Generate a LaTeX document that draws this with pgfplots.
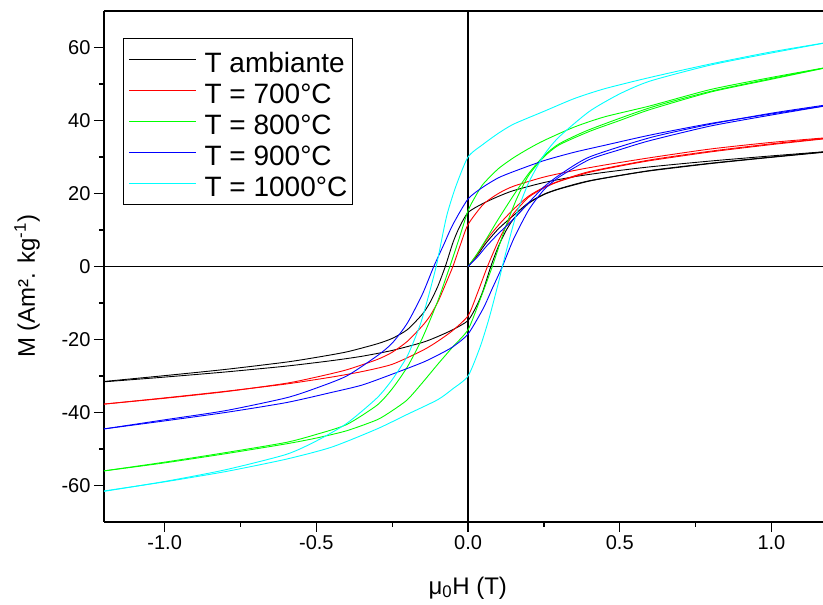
\documentclass[border=0pt]{standalone}
\usepackage{fontspec}
\setmainfont{Liberation Sans}
\usepackage{pgfplots}
\pgfplotsset{compat=1.18}
\definecolor{cR}{RGB}{255,0,0}
\definecolor{cG}{RGB}{0,255,0}
\definecolor{cB}{RGB}{0,0,255}
\definecolor{cC}{RGB}{0,255,255}
\begin{document}
\begin{tikzpicture}
\useasboundingbox (0,0) rectangle (823pt,605pt);
\begin{axis}[
  at={(104pt,83pt)}, anchor=south west,
  scale only axis, width=719pt, height=511pt,
  xmin=-1.2, xmax=1.17, ymin=-70, ymax=70,
  axis x line*=bottom, axis y line*=left,
  axis line style={line width=2pt},
  tick align=outside,
  xtick={-1,-0.5,0,0.5,1}, ytick={-60,-40,-20,0,20,40,60},
  minor x tick num=1, minor y tick num=1,
  major tick length=10pt, minor tick length=5pt,
  every tick/.style={black, line width=1.4pt},
  /pgf/number format/assume math mode=true,
  tick label style={font=\fontsize{20}{22}\selectfont},
  xticklabel style={/pgf/number format/.cd, fixed, fixed zerofill, precision=1},
  yticklabel style={/pgf/number format/.cd, fixed, precision=0},
  xlabel={μ\textsubscript{0}H (T)},
  ylabel={M (Am². kg\textsuperscript{-1})},
  every axis x label/.style={at={(axis description cs:0.506,-0.129)}, anchor=center, font=\fontsize{24}{26}\selectfont},
  every axis y label/.style={at={(axis description cs:-0.107,0.461)}, rotate=90, anchor=center, font=\fontsize{24}{26}\selectfont},
  legend style={at={(axis description cs:0.0264,0.947)}, anchor=north west, draw=black, line width=1.4pt,
     font=\fontsize{28}{30}\selectfont, inner xsep=5pt, inner ysep=8pt, row sep=5pt,
     nodes={inner sep=0pt, text height=26pt, text depth=0pt}},
  legend cell align=left,
  legend image code/.code={\draw[#1, line width=0.9pt] (0pt,0pt) -- (67pt,0pt); \path (75pt,0pt);},
  every axis plot/.append style={line width=0.9pt, smooth, tension=0.4},
]
\addplot[black, line width=1.5pt, forget plot, sharp plot] coordinates {(-1.2,0) (1.2,0)};
\addplot[black, line width=1.5pt, forget plot, sharp plot] coordinates {(0,-70) (0,70)};
% ---- T ambiante (black)
\addplot[black] coordinates {(-1.2,-31.6) (-1.0,-30.3) (-0.8,-28.9) (-0.6,-27.3) (-0.45,-25.8) (-0.35,-24.6) (-0.25,-23) (-0.15,-20.8) (-0.1,-19.2) (-0.05,-17.3) (0,-14.8) (0.03,-10.5) (0.05,-6.5) (0.075,0) (0.1,5.5) (0.125,9.8) (0.15,13) (0.2,17.3) (0.25,19.7) (0.3,21.2) (0.4,23.4) (0.5,24.9) (0.6,26.2) (0.8,28.2) (1.0,29.9) (1.2,31.5)};
\addlegendentry{T ambiante}
\addplot[black, forget plot] coordinates {(1.2,31.6) (1.0,30.3) (0.8,28.9) (0.6,27.3) (0.45,25.8) (0.35,24.6) (0.25,23) (0.15,20.8) (0.1,19.2) (0.05,17.3) (0,14.8) (-0.03,10.5) (-0.05,6.5) (-0.075,0) (-0.1,-5.5) (-0.125,-9.8) (-0.15,-13) (-0.2,-17.3) (-0.25,-19.7) (-0.3,-21.2) (-0.4,-23.4) (-0.5,-24.9) (-0.6,-26.2) (-0.8,-28.2) (-1.0,-29.9) (-1.2,-31.5)};
\addplot[black, forget plot] coordinates {(0,0) (0.03,3) (0.06,6.5) (0.1,10.3) (0.15,14) (0.2,17.5) (0.25,19.8) (0.3,21.3) (0.4,23.5) (0.6,26.3) (0.8,28.3) (1.0,30) (1.2,31.6)};
% ---- 700 (red)
\addplot[cR] coordinates {(-1.2,-37.7) (-1.0,-36) (-0.8,-34.2) (-0.6,-32.2) (-0.45,-30.3) (-0.35,-28.8) (-0.25,-26.8) (-0.15,-23) (-0.1,-20.5) (-0.05,-17.5) (0,-13.5) (0.03,-7.5) (0.064,0) (0.1,7) (0.125,11) (0.15,14.5) (0.2,19) (0.25,21.5) (0.3,23.3) (0.4,25.8) (0.5,27.5) (0.6,29) (0.8,31.4) (1.0,33.4) (1.2,35.2)};
\addlegendentry{T = 700°C}
\addplot[cR, forget plot] coordinates {(1.2,35.4) (1.0,34) (0.8,32.2) (0.6,29.8) (0.45,27.8) (0.35,26.3) (0.25,24.5) (0.15,22) (0.1,20) (0.05,17) (0,11.5) (-0.025,6) (-0.05,0) (-0.08,-6) (-0.1,-9.8) (-0.125,-13.5) (-0.15,-16.2) (-0.2,-20.5) (-0.25,-23.5) (-0.3,-25.5) (-0.4,-28.3) (-0.5,-30.3) (-0.6,-32) (-0.8,-34.3) (-1.0,-36.1) (-1.2,-37.7)};
\addplot[cR, forget plot] coordinates {(0,0) (0.03,3.3) (0.06,7.2) (0.1,11.3) (0.15,15.7) (0.2,19.3) (0.25,21.7) (0.3,23.4) (0.4,26) (0.6,29.2) (0.8,31.6) (1.0,33.6) (1.2,35.3)};
% ---- 800 (green)
\addplot[cG] coordinates {(-1.2,-56) (-1.0,-53.8) (-0.8,-51.3) (-0.6,-48.6) (-0.5,-47) (-0.4,-45) (-0.3,-42) (-0.25,-39.5) (-0.2,-36.5) (-0.15,-31.8) (-0.1,-26.8) (-0.05,-22) (0,-17.3) (0.04,-9) (0.08,0) (0.12,10) (0.16,18.5) (0.2,25) (0.25,30) (0.3,33.3) (0.4,37) (0.5,40) (0.6,43) (0.8,47.8) (1.0,51.3) (1.2,54.8)};
\addlegendentry{T = 800°C}
\addplot[cG, forget plot] coordinates {(1.2,54.8) (1.0,51.8) (0.8,48.5) (0.6,44) (0.45,41) (0.35,38.2) (0.25,34.5) (0.2,32.3) (0.15,29.8) (0.1,26.8) (0.05,22.6) (0.025,19.3) (0,15.3) (-0.03,7.5) (-0.06,0) (-0.1,-9.5) (-0.15,-19.5) (-0.2,-27.5) (-0.25,-33.5) (-0.3,-38) (-0.4,-43.3) (-0.5,-46) (-0.6,-48.2) (-0.8,-51) (-1.0,-53.6) (-1.2,-56)};
\addplot[cG, forget plot] coordinates {(0,0) (0.03,3.5) (0.06,7.5) (0.1,13) (0.15,19.5) (0.2,25.5) (0.25,30.3) (0.3,33.6) (0.4,37.5) (0.6,43.5) (0.8,48) (1.0,51.5) (1.2,54.8)};
% ---- 900 (blue)
\addplot[cB] coordinates {(-1.2,-44.5) (-1.0,-42.3) (-0.8,-40) (-0.6,-37.3) (-0.45,-34.5) (-0.35,-32.5) (-0.25,-29.5) (-0.15,-26.3) (-0.1,-24.3) (-0.05,-22) (0,-18.5) (0.05,-11.5) (0.08,-6) (0.113,0) (0.15,7.5) (0.2,15.5) (0.25,21) (0.3,24.5) (0.4,29.3) (0.5,32) (0.6,34.5) (0.8,38.5) (1.0,41.5) (1.2,44.3)};
\addlegendentry{T = 900°C}
\addplot[cB, forget plot] coordinates {(1.2,44.3) (1.0,41.8) (0.8,39.2) (0.6,36) (0.45,33.2) (0.35,31.3) (0.25,29) (0.15,26) (0.1,24.3) (0.05,21.8) (0,18.5) (-0.05,11.5) (-0.08,6) (-0.113,0) (-0.15,-7.5) (-0.2,-15.5) (-0.25,-21) (-0.3,-24.5) (-0.4,-30) (-0.5,-33.3) (-0.6,-36) (-0.8,-39.5) (-1.0,-42) (-1.2,-44.5)};
\addplot[cB, forget plot] coordinates {(0,0) (0.03,2.5) (0.06,5.5) (0.1,9) (0.15,13) (0.2,17.5) (0.25,21.8) (0.3,25) (0.4,30) (0.6,35.3) (0.8,39) (1.0,42) (1.2,44.5)};
% ---- 1000 (cyan)
\addplot[cC] coordinates {(-1.2,-61.5) (-1.0,-59) (-0.8,-56.2) (-0.6,-52.8) (-0.45,-49.5) (-0.3,-44.5) (-0.2,-40.5) (-0.1,-36.5) (-0.05,-33.5) (0,-30) (0.04,-22) (0.07,-14) (0.1,-4.5) (0.113,0) (0.13,5.5) (0.16,14.5) (0.2,23) (0.25,30.5) (0.3,35.5) (0.4,42.5) (0.5,47.3) (0.6,50.8) (0.8,55.2) (1.0,58.5) (1.2,61.6)};
\addlegendentry{T = 1000°C}
\addplot[cC, forget plot] coordinates {(1.2,61.6) (1.0,58.8) (0.8,55.5) (0.6,51.8) (0.45,48.7) (0.35,46) (0.25,42.5) (0.15,39) (0.1,36.5) (0.05,33.5) (0,30) (-0.04,22) (-0.07,14) (-0.095,4) (-0.105,0) (-0.13,-8) (-0.158,-16) (-0.2,-24.5) (-0.25,-31) (-0.3,-36) (-0.4,-43) (-0.5,-47.8) (-0.6,-51.5) (-0.8,-55.7) (-1.0,-58.9) (-1.2,-61.6)};
\draw[line width=2pt] (rel axis cs:0,1) -- (rel axis cs:1,1);
\end{axis}
\end{tikzpicture}
\end{document}
